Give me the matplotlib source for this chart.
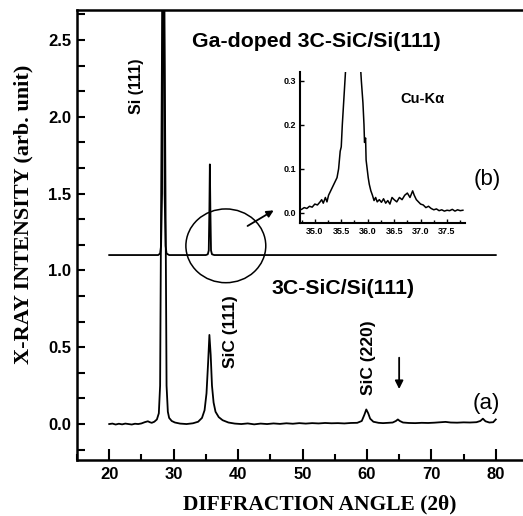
import matplotlib
matplotlib.use("Agg")
import matplotlib.pyplot as plt
from matplotlib.patches import Ellipse
from matplotlib.ticker import MultipleLocator, AutoMinorLocator

SANS = "Liberation Sans"
SERIF = "Liberation Serif"

# ---- data ----
# (a) undoped 3C-SiC/Si(111)
a_x = [20.0, 20.5, 21.0, 21.5, 22.0, 22.5, 23.0, 23.5, 24.0, 24.5, 25.0, 25.5, 26.0, 26.3, 26.6,
       27.0, 27.4, 27.7, 27.9, 28.0, 28.33, 28.47, 28.8, 28.9, 29.1, 29.3, 29.7, 30.2,
       31.0, 32.0, 33.0, 33.8, 34.4, 34.8, 35.1, 35.35, 35.55, 35.75, 35.95, 36.2, 36.5, 37.0, 37.6,
       38.5, 39.5, 40.5, 41.5, 42.5, 43.5, 44.5, 45.5, 46.5, 47.5, 48.5, 49.5, 50.5, 51.5, 52.5,
       53.5, 54.5, 55.5, 56.5, 57.5, 58.5, 59.2, 59.6, 59.9, 60.2, 60.5, 61.0, 61.8, 62.5, 63.3,
       64.0, 64.5, 64.8, 65.1, 65.6, 66.5, 67.5, 68.5, 69.5, 70.5, 71.5, 72.2, 73.0, 74.0, 75.0,
       76.0, 77.0, 77.6, 78.0, 78.4, 79.0, 79.6, 80.0]
a_y = [0.000, 0.003, -0.003, 0.002, -0.002, 0.003, 0.000, -0.003, 0.002, 0.000, 0.004, 0.012, 0.018, 0.012, 0.008,
       0.015, 0.03, 0.07, 0.25, 1.0, 3.5, 3.5, 1.0, 0.25, 0.08, 0.04, 0.02, 0.01,
       0.003, 0.000, 0.005, 0.015, 0.04, 0.09, 0.2, 0.4, 0.58, 0.45, 0.25, 0.14, 0.08, 0.045, 0.025,
       0.01, 0.003, 0.000, 0.004, -0.002, 0.003, 0.000, 0.004, 0.001, 0.005, 0.002, 0.006, 0.003, 0.006, 0.004,
       0.007, 0.005, 0.006, 0.004, 0.007, 0.008, 0.02, 0.06, 0.095, 0.07, 0.035, 0.015, 0.008, 0.006, 0.008,
       0.01, 0.02, 0.03, 0.02, 0.01, 0.007, 0.006, 0.008, 0.007, 0.009, 0.012, 0.014, 0.01, 0.009, 0.011,
       0.01, 0.012, 0.02, 0.035, 0.018, 0.01, 0.012, 0.03]

# (b) Ga-doped 3C-SiC/Si(111), offset baseline
b_x = [20.0, 27.6, 27.9, 28.05, 28.2, 28.35, 28.45, 28.6, 28.75, 28.9, 29.3,
       35.0, 35.3, 35.45, 35.55, 35.62, 35.7, 35.8, 35.95, 36.3, 80.0]
b_y = [1.10, 1.10, 1.11, 1.16, 1.5, 3.5, 3.5, 1.5, 1.16, 1.11, 1.10,
       1.10, 1.105, 1.13, 1.4, 1.69, 1.4, 1.13, 1.105, 1.10, 1.10]

# inset: zoom of (b) around SiC(111)
in_x = [34.75, 34.8, 34.85, 34.9, 34.95, 35.0, 35.05, 35.1, 35.13, 35.16, 35.2, 35.23, 35.26, 35.3,
        35.34, 35.38, 35.42, 35.45, 35.48, 35.5, 35.52, 35.55, 35.57, 35.6, 35.72, 35.85, 35.88,
        35.91, 35.93, 35.94, 35.96, 35.97, 35.99, 36.01, 36.03, 36.06, 36.09, 36.12, 36.15, 36.18,
        36.22, 36.26, 36.3, 36.34, 36.38, 36.42, 36.46, 36.5, 36.55, 36.6, 36.65, 36.7, 36.75, 36.8,
        36.85, 36.88, 36.92, 36.96, 37.0, 37.05, 37.1, 37.15, 37.2, 37.25, 37.3, 37.35, 37.4, 37.45,
        37.5, 37.55, 37.6, 37.65, 37.7, 37.75, 37.8]
in_y = [0.008, 0.012, 0.010, 0.015, 0.013, 0.020, 0.018, 0.025, 0.030, 0.022, 0.035, 0.025, 0.040, 0.050,
        0.060, 0.070, 0.080, 0.100, 0.140, 0.150, 0.200, 0.260, 0.300, 0.360, 0.600, 0.360, 0.300,
        0.250, 0.200, 0.160, 0.170, 0.120, 0.100, 0.080, 0.065, 0.050, 0.040, 0.028, 0.035, 0.025,
        0.030, 0.024, 0.032, 0.022, 0.028, 0.020, 0.035, 0.030, 0.025, 0.035, 0.030, 0.040, 0.045, 0.035,
        0.050, 0.040, 0.030, 0.025, 0.020, 0.018, 0.012, 0.015, 0.010, 0.007, 0.009, 0.005, 0.007, 0.004,
        0.006, 0.005, 0.008, 0.004, 0.007, 0.005, 0.006]

W, H = 523, 516
fig = plt.figure(figsize=(W / 100, H / 100), dpi=100)

# ---- main axes ----
ax = fig.add_axes([77 / W, 1 - 460 / H, 451 / W, 450 / H])
ax.plot(a_x, a_y, color="black", lw=1.3)
ax.plot(b_x, b_y, color="black", lw=1.3)
ax.set_xlim(15, 85)
ax.set_ylim(-0.234, 2.695)
ax.xaxis.set_major_locator(MultipleLocator(10))
ax.xaxis.set_minor_locator(MultipleLocator(5))
ax.yaxis.set_major_locator(MultipleLocator(0.5))
ax.yaxis.set_minor_locator(AutoMinorLocator(3))
ax.set_xticks([20, 30, 40, 50, 60, 70, 80])
ax.tick_params(which="both", direction="in", width=1.5)
ax.tick_params(axis="x", which="major", length=8, pad=5)
ax.tick_params(axis="x", which="minor", length=4)
ax.tick_params(axis="y", which="both", length=6, pad=4)
for lab in ax.get_xticklabels() + ax.get_yticklabels():
    lab.set_fontfamily(SANS); lab.set_fontweight("bold"); lab.set_fontsize(12)
for s in ax.spines.values():
    s.set_linewidth(1.8)

ax.set_xlabel("DIFFRACTION ANGLE (2θ)", fontfamily=SERIF, fontweight="bold", fontsize=15.5)
ax.xaxis.set_label_coords(0.539, -0.076)
ax.set_ylabel("X-RAY INTENSITY (arb. unit)", fontfamily=SERIF, fontweight="bold", fontsize=16)
ax.yaxis.set_label_coords(-0.097, 0.547)

# annotations
ax.text(24.3, 2.20, "Si (111)", rotation=90, ha="center", va="center",
        fontfamily=SANS, fontweight="bold", fontsize=11.5)
ax.text(52.2, 2.49, "Ga-doped 3C-SiC/Si(111)", ha="center", va="center",
        fontfamily=SANS, fontweight="bold", fontsize=15.3)
ax.text(56.3, 0.885, "3C-SiC/Si(111)", ha="center", va="center",
        fontfamily=SANS, fontweight="bold", fontsize=15.3)
ax.text(38.8, 0.60, "SiC (111)", rotation=90, ha="center", va="center",
        fontfamily=SANS, fontweight="bold", fontsize=12.5)
ax.text(60.2, 0.43, "SiC (220)", rotation=90, ha="center", va="center",
        fontfamily=SANS, fontweight="bold", fontsize=12.5)
ax.text(78.6, 0.137, "(a)", ha="center", va="center", fontfamily=SANS, fontsize=16)
ax.text(78.6, 1.59, "(b)", ha="center", va="center", fontfamily=SANS, fontsize=16)
ax.annotate("", xy=(65, 0.21), xytext=(65, 0.45),
            arrowprops=dict(arrowstyle="-|>", color="black", lw=1.3, mutation_scale=12))
ax.add_patch(Ellipse((38.1, 1.16), 12.4, 0.48, fill=False, edgecolor="black", lw=1.1))
ax.annotate("", xy=(45.9, 1.40), xytext=(41.1, 1.28),
            arrowprops=dict(arrowstyle="-|>", color="black", lw=1.3, mutation_scale=10))

# ---- inset ----
ins = fig.add_axes([300 / W, 1 - 223 / H, 165 / W, 151 / H])
ins.plot(in_x, in_y, color="black", lw=1.1)
ins.set_xlim(34.72, 37.84)
ins.set_ylim(-0.023, 0.32)
ins.set_xticks([35.0, 35.5, 36.0, 36.5, 37.0, 37.5])
ins.xaxis.set_minor_locator(MultipleLocator(0.25))
ins.set_yticks([0.0, 0.1, 0.2, 0.3])
ins.set_xticklabels(["35.0", "35.5", "36.0", "36.5", "37.0", "37.5"])
ins.set_yticklabels(["0.0", "0.1", "0.2", "0.3"])
ins.spines["top"].set_visible(False)
ins.spines["right"].set_visible(False)
for s in ("left", "bottom"):
    ins.spines[s].set_linewidth(1.5)
ins.tick_params(which="both", direction="in", width=1.0, pad=3)
ins.tick_params(which="major", length=3)
ins.tick_params(which="minor", length=2)
for lab in ins.get_xticklabels() + ins.get_yticklabels():
    lab.set_fontfamily(SANS); lab.set_fontweight("bold"); lab.set_fontsize(6.5)
ins.text(37.03, 0.259, "Cu-Kα", ha="center", va="center",
         fontfamily=SANS, fontweight="bold", fontsize=10.5)
ins.patch.set_alpha(0)

fig.savefig("out.png", dpi=100)
